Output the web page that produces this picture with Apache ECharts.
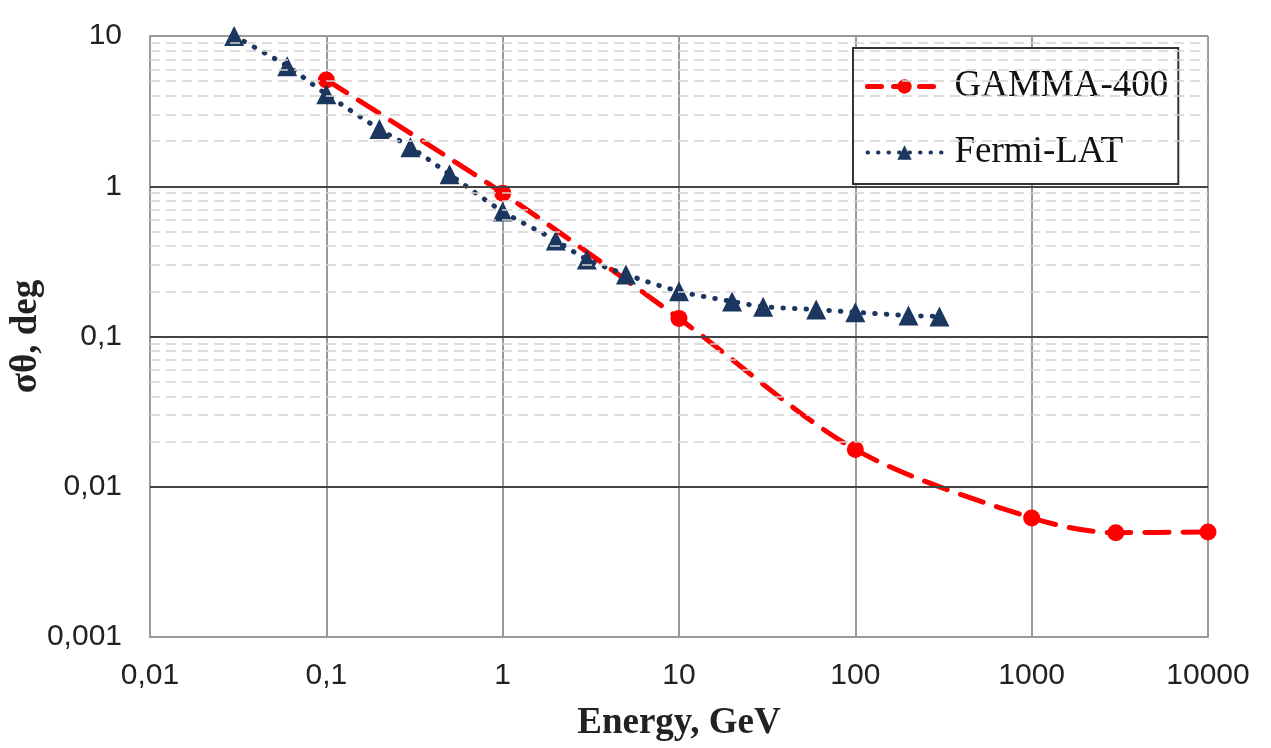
<!DOCTYPE html>
<html>
<head>
<meta charset="utf-8">
<script src="https://cdn.jsdelivr.net/npm/echarts@6/dist/echarts.min.js"></script>
<style>
  html, body { margin: 0; padding: 0; background: #fff; }
  #main { width: 1271px; height: 748px; }
</style>
</head>
<body>
<div id="main"></div>
<script>
// GAMMA-400 angular resolution (energy GeV, deg)
var gammaEnergy = [0.1, 1, 10, 100, 1000, 3000, 10000];
var gammaSigma = [5.1, 0.9, 0.132, 0.0177, 0.0062, 0.00495, 0.005];

// Fermi-LAT angular resolution
var fermiEnergy = [0.03, 0.06, 0.1, 0.2, 0.3, 0.5, 1, 2, 3, 5, 10, 20, 30, 60, 100, 200, 300];
var fermiSigma = [10, 6.3, 4.1, 2.4, 1.82, 1.2, 0.68, 0.436, 0.326, 0.259, 0.2, 0.171, 0.158, 0.151, 0.145, 0.138, 0.136];

// y decades and the minor grid positions inside them (2..9)
var yDecades = [0.001, 0.01, 0.1, 1, 10];
var yMinor = [];
[0.001, 0.01, 0.1, 1].forEach(function (d) {
  for (var k = 2; k <= 9; k++) yMinor.push(+(d * k).toPrecision(3));
});

function pairs(xs, ys) {
  return xs.map(function (x, i) { return [x, ys[i]]; });
}

function fmt(v) {
  return String(+(+v).toPrecision(6)).replace('.', ',');
}

var chart = echarts.init(document.getElementById('main'));

var gammaLine = { color: '#ff0000', width: 5, type: [24, 14], cap: 'round' };
var fermiLine = { color: '#1b365f', width: 5, type: [0.5, 11], cap: 'round' };

// grid lines: light dashed minor ones, solid major ones on top of them
var gridLines = yMinor.map(function (v) { return { yAxis: v }; }).concat(
  yDecades.slice(1, 4).map(function (v) {
    return { yAxis: v, lineStyle: { color: '#444', width: 2, type: 'solid' } };
  })
);

var option = {
  animation: false,
  grid: { left: 150, right: 63, top: 36, bottom: 111, outerBoundsMode: 'none', containLabel: false },
  xAxis: {
    type: 'log',
    logBase: 10,
    min: 0.01,
    max: 10000,
    name: 'Energy, GeV',
    nameLocation: 'middle',
    nameGap: 68,
    nameTextStyle: { fontFamily: 'Liberation Serif', fontWeight: 'bold', fontSize: 37, color: '#222' },
    axisLine: { show: true, onZero: false, lineStyle: { color: '#999', width: 2 } },
    axisTick: { show: false },
    axisLabel: { formatter: fmt, fontFamily: 'Liberation Sans', fontSize: 30, color: '#222', margin: 24 },
    splitLine: { show: true, lineStyle: { color: '#9a9a9a', width: 2 } }
  },
  yAxis: {
    type: 'log',
    logBase: 10,
    min: 0.001,
    max: 10,
    name: 'σθ, deg',
    nameLocation: 'middle',
    nameGap: 105,
    nameMoveOverlap: false,
    nameTextStyle: { fontFamily: 'Liberation Serif', fontWeight: 'bold', fontSize: 37, color: '#222' },
    axisLine: { show: true, onZero: false, lineStyle: { color: '#999', width: 2 } },
    axisTick: { show: false },
    axisLabel: { formatter: fmt, fontFamily: 'Liberation Sans', fontSize: 30, color: '#222', margin: 28 },
    splitLine: { show: true, lineStyle: { color: '#999', width: 2, type: 'solid' } }
  },
  legend: {
    data: [
      { name: 'GAMMA-400', lineStyle: { width: 5, type: [14, 12] } },
      { name: 'Fermi-LAT', lineStyle: { width: 4, type: [0.5, 10] } }
    ],
    orient: 'vertical',
    left: 853,
    top: 48,
    padding: [20, 10, 13, 12],
    itemGap: 29,
    itemWidth: 74,
    itemHeight: 18,
    backgroundColor: '#fff',
    borderColor: '#333',
    borderWidth: 2,
    borderRadius: 0,
    textStyle: { fontFamily: 'Liberation Serif', fontSize: 37, color: '#111', padding: [0, 0, 0, 8] }
  },
  series: [
    {
      name: 'grid',
      type: 'line',
      data: [],
      silent: true,
      z: 2,
      markLine: {
        silent: true,
        symbol: 'none',
        label: { show: false },
        lineStyle: { color: '#d2d2d2', width: 1.5, type: [10, 6] },
        data: gridLines
      }
    },
    {
      name: 'GAMMA-400',
      type: 'line',
      data: pairs(gammaEnergy, gammaSigma),
      smooth: 0.3,
      symbol: 'circle',
      symbolSize: 17,
      z: 3,
      itemStyle: { color: '#ff0000' },
      lineStyle: gammaLine
    },
    {
      name: 'Fermi-LAT',
      type: 'line',
      data: pairs(fermiEnergy, fermiSigma),
      smooth: 0.3,
      symbol: 'triangle',
      symbolSize: 20,
      z: 4,
      itemStyle: { color: '#1b365f' },
      lineStyle: fermiLine
    }
  ]
};

chart.setOption(option);
</script>
</body>
</html>
